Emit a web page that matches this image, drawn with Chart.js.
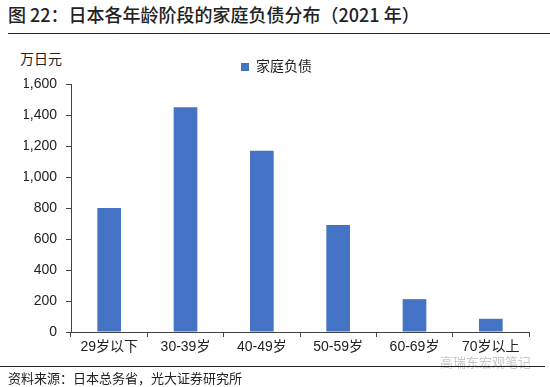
<!DOCTYPE html>
<html>
<head>
<meta charset="utf-8">
<script src="https://cdn.jsdelivr.net/npm/chart.js@4"></script>
<style>
  body { margin: 0; width: 550px; height: 387px; background: #fff; position: relative; overflow: hidden;
         font-family: "Noto Sans CJK SC", sans-serif; color: #222; }
  #title { position: absolute; left: 8px; top: 1px; font-size: 18px; font-weight: 500; white-space: nowrap; }
  #rule1 { position: absolute; left: 8px; right: 0; top: 33px; border-top: 1px solid #222; }
  #unit { position: absolute; left: 20px; top: 48px; font-size: 14px; }
  #box { position: absolute; left: 0; top: 40px; width: 550px; height: 325px; }
  #rule2 { position: absolute; left: 0; width: 545px; top: 366px; border-top: 1px solid #222; }
  #source { position: absolute; left: 8px; top: 368px; font-size: 13px; white-space: nowrap; }
  #mark { position: absolute; left: 440px; top: 352px; font-size: 13px; color: #c8c8c8; white-space: nowrap; }
</style>
</head>
<body>
<div id="title">图 22：日本各年龄阶段的家庭负债分布（2021 年）</div>
<div id="rule1"></div>
<div id="unit">万日元</div>
<div id="box"><canvas id="chart"></canvas></div>
<div id="mark">高瑞东宏观笔记</div>
<div id="rule2"></div>
<div id="source">资料来源：日本总务省，光大证券研究所</div>
<script>
// age groups and household debt (10k yen)
const ageGroups = ['29岁以下', '30-39岁', '40-49岁', '50-59岁', '60-69岁', '70岁以上'];
const householdDebt = [800, 1450, 1170, 690, 212, 85];
const seriesName = '家庭负债';
const yTicks = [0, 200, 400, 600, 800, 1000, 1200, 1400, 1600];

const fontFamily = 'Arial, "Liberation Sans", "Noto Sans CJK SC", sans-serif';

const ctx = document.getElementById('chart').getContext('2d');
new Chart(ctx, {
  type: 'bar',
  data: {
    labels: ageGroups,
    datasets: [{
      label: seriesName,
      data: householdDebt,
      backgroundColor: '#4472C4',
      categoryPercentage: 0.31,
      barPercentage: 1
    }]
  },
  options: {
    responsive: true,
    maintainAspectRatio: false,
    animation: false,
    layout: { padding: { left: 24, right: 21, top: 10, bottom: 0 } },
    scales: {
      x: {
        offset: true,
        grid: { offset: true, drawOnChartArea: false, tickLength: 5, color: '#444' },
        border: { color: '#444', width: 1 },
        ticks: { color: '#222', font: { family: fontFamily, size: 14 }, padding: 2, maxRotation: 0 },
        afterFit: scale => { scale.height = 33; }
      },
      y: {
        min: 0,
        max: 1600,
        afterBuildTicks: scale => { scale.ticks = yTicks.map(v => ({ value: v })); },
        grid: { drawOnChartArea: false, tickLength: 5, color: '#444' },
        border: { color: '#444', width: 1 },
        ticks: {
          color: '#222',
          padding: 9,
          font: { family: fontFamily, size: 14 },
          callback: v => v.toLocaleString('en-US')
        },
        afterFit: scale => { scale.width = 47; }
      }
    },
    plugins: {
      legend: {
        display: true,
        position: 'top',
        labels: {
          boxWidth: 8,
          boxHeight: 8,
          padding: 10,
          color: '#222',
          font: { family: fontFamily, size: 14 }
        }
      },
      tooltip: { enabled: false }
    }
  }
});
</script>
</body>
</html>
